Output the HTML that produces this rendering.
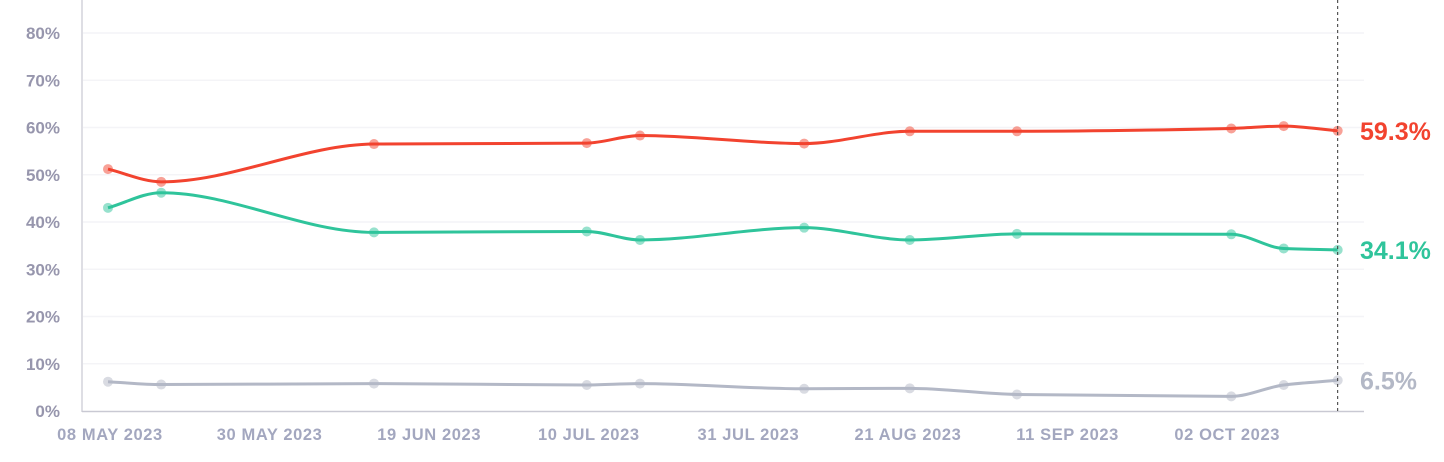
<!DOCTYPE html>
<html><head><meta charset="utf-8"><style>
html,body{margin:0;padding:0;background:#fff;width:1444px;height:462px;overflow:hidden}
svg{display:block;font-family:"Liberation Sans",sans-serif;font-weight:bold}
</style></head><body>
<svg id="chart" width="1444" height="462" viewBox="0 0 1444 462" xmlns="http://www.w3.org/2000/svg"></svg>
<script>
const dayOffsets=[0,7,35,63,70,91.6,105.5,119.6,147.8,154.7,161.8];
const redValues=[51.2,48.5,56.5,56.7,58.3,56.6,59.2,59.2,59.8,60.3,59.3];
const greenValues=[43.0,46.2,37.8,38.0,36.2,38.8,36.2,37.5,37.4,34.4,34.1];
const greyValues=[6.2,5.6,5.8,5.5,5.8,4.7,4.8,3.5,3.1,5.5,6.5];
const yTicks=[0,10,20,30,40,50,60,70,80];
const xTickDays=[0,21,42,63,84,105,126,147];
const xTickLabels=["08 MAY 2023","30 MAY 2023","19 JUN 2023","10 JUL 2023","31 JUL 2023","21 AUG 2023","11 SEP 2023","02 OCT 2023"];
const endLabels=["59.3%","34.1%","6.5%"];

const NS="http://www.w3.org/2000/svg";
const svg=document.getElementById('chart');
const X=d=>108+d*7.6;
const Y=v=>411-v*4.725;
function mk(t,a,p){const e=document.createElementNS(NS,t);for(const k in a)e.setAttribute(k,a[k]);(p||svg).appendChild(e);return e;}

yTicks.forEach(v=>{
  if(v>0){const g=mk('line',{x1:83,x2:1364,y1:Y(v),y2:Y(v),stroke:'#f4f4f7','stroke-width':1.5});
  
  }
  const t=mk('text',{x:60,y:Y(v)+6,'text-anchor':'end','font-size':17,fill:'#9796ad'});
  t.textContent=v+'%';
  
  
});
const ya=mk('line',{x1:82,x2:82,y1:0,y2:412,stroke:'#d4d4dc','stroke-width':1.5});


const xa=mk('line',{x1:82,x2:1364,y1:411.5,y2:411.5,stroke:'#c9c9d3','stroke-width':1.5});


xTickDays.forEach((d,i)=>{
  const t=mk('text',{x:X(d)+2,y:440,'text-anchor':'middle','font-size':16.5,'letter-spacing':0.6,fill:'#a3a7bf'});
  t.textContent=xTickLabels[i];
  
  
});

function monotone(xs,ys){
  const n=xs.length,dx=[],m=[],s=[];
  for(let i=0;i<n-1;i++){dx.push(xs[i+1]-xs[i]);s.push((ys[i+1]-ys[i])/dx[i]);}
  m[0]=s[0];m[n-1]=s[n-2];
  for(let i=1;i<n-1;i++){m[i]=(s[i-1]*s[i]<=0)?0:(3*(dx[i-1]+dx[i]))/((2*dx[i]+dx[i-1])/s[i-1]+(dx[i]+2*dx[i-1])/s[i]);}
  let p='M'+xs[0]+','+ys[0];
  for(let i=0;i<n-1;i++){const h=dx[i]/3;p+=' C'+(xs[i]+h)+','+(ys[i]+m[i]*h)+' '+(xs[i+1]-h)+','+(ys[i+1]-m[i+1]*h)+' '+xs[i+1]+','+ys[i+1];}
  return p;
}
const series=[[redValues,'#f2432f','red'],[greenValues,'#2fc49b','green'],[greyValues,'#b3b8c6','grey']];
series.forEach(([vals,col,nm],si)=>{
  const xs=dayOffsets.map(X),ys=vals.map(Y);
  const l=mk('path',{d:monotone(xs,ys),fill:'none',stroke:col,'stroke-width':3});
  
  
  xs.forEach((x,i)=>{
    const c=mk('circle',{cx:x,cy:ys[i],r:5,fill:col,opacity:0.5});
    
    
  });
  const t=mk('text',{x:1360,y:ys[ys.length-1]+9,'font-size':25,fill:col});
  t.textContent=endLabels[si];
  
  
});
const dl=mk('line',{x1:X(dayOffsets[dayOffsets.length-1]),x2:X(dayOffsets[dayOffsets.length-1]),y1:0,y2:411,stroke:'#333','stroke-width':1,'stroke-dasharray':'3,3'});


</script>
</body></html>
